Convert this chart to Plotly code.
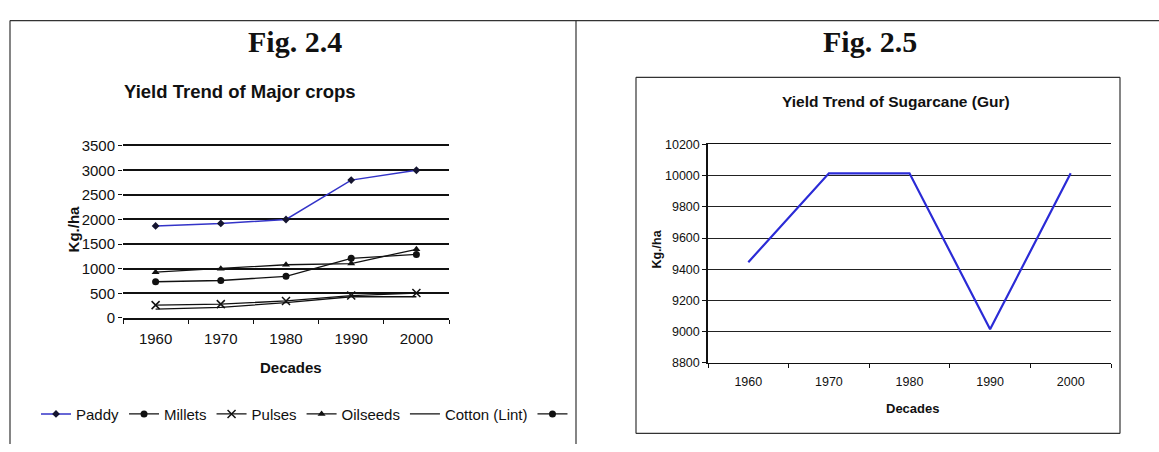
import plotly.graph_objects as go

# ---------------- data ----------------
decades = ["1960", "1970", "1980", "1990", "2000"]
paddy = [1870, 1920, 2000, 2800, 3000]
millets = [735, 760, 845, 1210, 1290]
pulses = [260, 280, 345, 455, 505]
oilseeds = [930, 1000, 1080, 1105, 1395]
cotton = [180, 215, 310, 430, 430]
sugarcane = [9445, 10015, 10015, 9015, 10015]
left_yticks = [0, 500, 1000, 1500, 2000, 2500, 3000, 3500]
right_yticks = [8800, 9000, 9200, 9400, 9600, 9800, 10000, 10200]

W, H = 1159, 452


def px(x):
    return x / W


def py(y):
    return 1 - y / H


SANS = "Liberation Sans, Arial, sans-serif"
SERIF = "Liberation Serif, Times New Roman, serif"

fig = go.Figure()

# ---------------- left chart ----------------
fig.add_trace(go.Scatter(x=decades, y=paddy, name="Paddy", mode="lines+markers",
                         line=dict(color="#3434c8", width=1.5),
                         marker=dict(symbol="diamond", size=6, color="#151530"),
                         xaxis="x", yaxis="y"))
fig.add_trace(go.Scatter(x=decades, y=millets, name="Millets", mode="lines+markers",
                         line=dict(color="#111", width=1.3),
                         marker=dict(symbol="circle", size=7, color="#111"),
                         xaxis="x", yaxis="y"))
fig.add_trace(go.Scatter(x=decades, y=pulses, name="Pulses", mode="lines+markers",
                         line=dict(color="#111", width=1.3),
                         marker=dict(symbol="x-thin", size=8, color="#111",
                                     line=dict(color="#111", width=1.5)),
                         xaxis="x", yaxis="y"))
fig.add_trace(go.Scatter(x=decades, y=oilseeds, name="Oilseeds", mode="lines+markers",
                         line=dict(color="#111", width=1.3),
                         marker=dict(symbol="triangle-up", size=7, color="#111"),
                         xaxis="x", yaxis="y"))
fig.add_trace(go.Scatter(x=decades, y=cotton, name="Cotton (Lint)", mode="lines",
                         line=dict(color="#111", width=1.3),
                         xaxis="x", yaxis="y"))
# legend-only entry (trailing symbol in the original legend)
fig.add_trace(go.Scatter(x=[None], y=[None], name="", mode="lines+markers",
                         line=dict(color="#111", width=1.3),
                         marker=dict(symbol="circle", size=7, color="#111"),
                         xaxis="x", yaxis="y"))

# ---------------- right chart ----------------
fig.add_trace(go.Scatter(x=decades, y=sugarcane, name="Sugarcane (Gur)", mode="lines",
                         line=dict(color="#2b2bd6", width=2.2),
                         showlegend=False, xaxis="x2", yaxis="y2"))

axis_font = dict(family=SANS, size=15, color="#111")
axis_font_r = dict(family=SANS, size=12.5, color="#111")

fig.update_layout(
    width=W, height=H,
    margin=dict(l=0, r=0, t=0, b=0),
    paper_bgcolor="white", plot_bgcolor="white",
    xaxis=dict(domain=[px(123), px(449)], anchor="y", type="category",
               range=[-0.5, 4.5], tickson="boundaries", ticks="outside",
               ticklen=4, tickcolor="#111", tickwidth=1.3,
               showline=True, mirror=True, linecolor="#111", linewidth=1.5,
               showgrid=False, tickfont=axis_font, ticklabelstandoff=6),
    yaxis=dict(domain=[py(321), py(142)], anchor="x", range=[0, 3500],
               tickvals=left_yticks, ticktext=[str(v) for v in left_yticks],
               ticks="outside", ticklen=4,
               tickcolor="#111", showline=False, zeroline=False,
               showgrid=True, gridcolor="#111", gridwidth=1.5,
               tickfont=axis_font),
    xaxis2=dict(domain=[px(708), px(1111)], anchor="y2", type="category",
                range=[-0.5, 4.5], tickson="boundaries", ticks="outside",
                ticklen=4, tickcolor="#111", tickwidth=1.2,
                showline=True, mirror=True, linecolor="#111", linewidth=1.3,
                showgrid=False, tickfont=axis_font_r, ticklabelstandoff=7),
    yaxis2=dict(domain=[py(367.7), py(140.7)], anchor="x2", range=[8800, 10200],
                tickvals=right_yticks, ticktext=[str(v) for v in right_yticks],
                ticks="outside", ticklen=4,
                tickcolor="#111", showline=True, linecolor="#111", linewidth=1.5,
                zeroline=False, showgrid=True, gridcolor="#222", gridwidth=1.2,
                tickfont=axis_font_r),
    legend=dict(orientation="h", x=px(36), y=py(421), xanchor="left",
                yanchor="middle", font=dict(family=SANS, size=15, color="#111"),
                bgcolor="rgba(0,0,0,0)", traceorder="normal", itemwidth=30),
)

annotations = [
    dict(text="<b>Fig. 2.4</b>", x=px(295), y=py(34),
         font=dict(family=SERIF, size=30, color="#111")),
    dict(text="<b>Fig. 2.5</b>", x=px(870), y=py(34),
         font=dict(family=SERIF, size=30, color="#111")),
    dict(text="<b>Yield Trend of Major crops</b>", x=px(240), y=py(86),
         font=dict(family=SANS, size=18.5, color="#111")),
    dict(text="<b>Yield Trend of Sugarcane (Gur)</b>", x=px(896), y=py(96),
         font=dict(family=SANS, size=15.5, color="#111")),
    dict(text="<b>Kg./ha</b>", x=px(73), y=py(229), textangle=-90,
         font=dict(family=SANS, size=15, color="#111")),
    dict(text="<b>Kg./ha</b>", x=px(657), y=py(250), textangle=-90,
         font=dict(family=SANS, size=12.5, color="#111")),
    dict(text="<b>Decades</b>", x=px(291), y=py(373),
         font=dict(family=SANS, size=15, color="#111")),
    dict(text="<b>Decades</b>", x=px(912), y=py(415),
         font=dict(family=SANS, size=13, color="#111")),
]
for a in annotations:
    a.update(xref="paper", yref="paper", showarrow=False,
             xanchor="center", yanchor="middle")
fig.update_layout(annotations=annotations)

shapes = [
    # top rule of the page
    dict(x0=px(10), x1=1, y0=py(12), y1=py(12)),
    # left page border
    dict(x0=px(10), x1=px(10), y0=py(12), y1=0),
    # divider between figures
    dict(x0=px(576), x1=px(576), y0=py(12), y1=0),
    # box around right chart
    dict(x0=px(636), x1=px(1120), y0=py(71), y1=py(71)),
    dict(x0=px(1120), x1=px(1120), y0=py(71), y1=py(441)),
    dict(x0=px(636), x1=px(636), y0=py(71), y1=py(441)),
    dict(x0=px(636), x1=px(1120), y0=py(441), y1=py(441)),
]
for s in shapes:
    s.update(type="line", xref="paper", yref="paper",
             line=dict(color="#333", width=1.2))
fig.update_layout(shapes=shapes)

fig.write_html("out.html")
